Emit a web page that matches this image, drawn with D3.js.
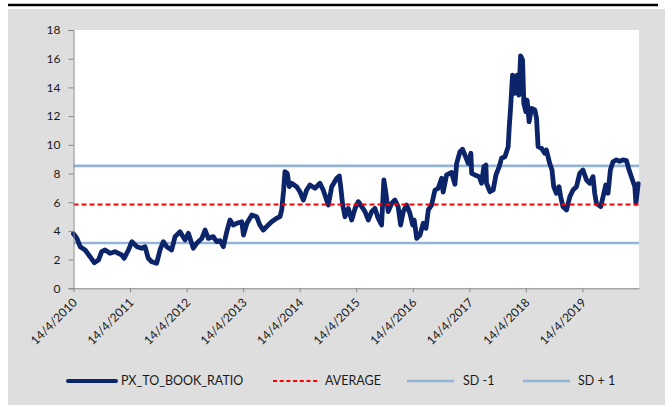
<!DOCTYPE html>
<html>
<head>
<meta charset="utf-8">
<script src="https://cdnjs.cloudflare.com/ajax/libs/d3/7.8.5/d3.min.js"></script>
<style>
  html, body { margin: 0; padding: 0; background: #ffffff; }
  svg { display: block; font-family: Lato, "Liberation Sans", sans-serif; }
</style>
</head>
<body>
<svg id="chart" width="672" height="407"></svg>
<script>
// Price-to-book ratio history with its mean and ±1 standard deviation bands
const dates = [
  "2010-04-14","2010-05-06","2010-05-27","2010-06-28","2010-07-30","2010-08-26","2010-09-22","2010-10-13",
  "2010-11-04","2010-12-06","2011-01-07","2011-02-20","2011-03-07","2011-04-04","2011-04-26","2011-05-28",
  "2011-06-29","2011-07-20","2011-08-10","2011-09-01","2011-10-03","2011-10-25","2011-11-15","2011-12-07",
  "2012-01-08","2012-01-30","2012-03-02","2012-04-04","2012-04-25","2012-05-27","2012-06-18","2012-07-21",
  "2012-08-11","2012-09-01","2012-10-03","2012-10-25","2012-11-15","2012-12-07","2012-12-29","2013-01-19",
  "2013-02-09","2013-03-04","2013-04-05","2013-04-16","2013-05-08","2013-06-09","2013-07-10","2013-07-31",
  "2013-08-22","2013-09-23","2013-10-15","2013-11-16","2013-12-08","2013-12-19","2013-12-31","2014-01-09",
  "2014-01-24","2014-02-06","2014-02-21","2014-03-25","2014-04-16","2014-05-08","2014-05-29","2014-06-19",
  "2014-07-22","2014-08-23","2014-09-13","2014-10-16","2014-11-07","2014-12-09","2014-12-26","2015-01-04",
  "2015-01-17","2015-02-01","2015-02-22","2015-03-16","2015-04-07","2015-04-28","2015-05-20","2015-06-10",
  "2015-07-01","2015-07-23","2015-08-13","2015-09-03","2015-09-25","2015-10-10","2015-10-23","2015-11-07",
  "2015-11-29","2015-12-20","2016-01-10","2016-01-26","2016-02-12","2016-03-05","2016-03-26","2016-04-13",
  "2016-04-23","2016-05-09","2016-05-30","2016-06-20","2016-07-08","2016-07-23","2016-08-13","2016-09-04",
  "2016-09-25","2016-10-17","2016-10-27","2016-11-18","2016-12-20","2017-01-11","2017-01-22","2017-02-12",
  "2017-03-01","2017-03-23","2017-04-07","2017-04-24","2017-04-29","2017-05-20","2017-06-17","2017-07-02",
  "2017-07-17","2017-07-30","2017-08-03","2017-08-25","2017-09-15","2017-10-03","2017-10-24","2017-11-08",
  "2017-11-30","2017-12-21","2017-12-28","2018-01-06","2018-01-18","2018-02-02","2018-02-17","2018-02-28",
  "2018-03-11","2018-03-24","2018-04-01","2018-04-14","2018-04-22","2018-05-05","2018-05-21","2018-06-11",
  "2018-06-22","2018-07-02","2018-07-24","2018-08-14","2018-08-25","2018-09-15","2018-09-30","2018-10-11",
  "2018-10-28","2018-11-14","2018-11-25","2018-12-10","2019-01-02","2019-01-23","2019-02-13","2019-03-07",
  "2019-03-28","2019-04-18","2019-05-11","2019-06-01","2019-06-22","2019-07-03","2019-07-14","2019-08-11",
  "2019-08-26","2019-09-12","2019-09-27","2019-10-12","2019-10-29","2019-11-20","2019-12-11","2020-01-02",
  "2020-01-24","2020-02-10","2020-03-03","2020-03-18","2020-03-25","2020-04-09"
];
const pxToBook = [
  3.8,3.48,2.9,2.67,2.2,1.78,1.97,2.55,
  2.67,2.44,2.55,2.32,2.09,2.67,3.25,2.9,
  2.79,2.9,2.09,1.85,1.74,2.67,3.25,2.9,
  2.67,3.6,3.94,3.37,3.83,2.79,3.14,3.48,
  4.06,3.48,3.6,3.25,3.32,2.9,3.94,4.76,
  4.41,4.53,4.64,3.71,4.53,5.11,4.99,4.41,
  4.06,4.41,4.64,4.88,4.99,5.46,6.8,8.13,
  8.01,7.08,7.32,7.08,6.73,6.15,6.85,7.2,
  6.97,7.32,6.85,5.8,7.08,7.67,7.83,7.08,
  5.8,4.99,5.57,4.76,5.57,6.04,5.69,5.34,
  4.76,5.34,5.57,4.88,4.41,7.55,6.62,5.34,
  5.92,6.15,5.69,4.41,5.34,5.8,5.23,4.41,
  4.76,3.48,3.71,4.53,4.18,5.46,5.8,6.85,
  6.97,7.67,6.7,7.9,8.07,7.25,8.71,9.5,
  9.69,9.1,8.71,9.41,8.01,7.9,7.78,7.32,
  8.48,8.59,7.32,6.73,6.85,7.9,8.48,9.06,
  9.17,9.87,11.26,12.66,14.86,13.59,14.86,13.47,
  16.2,15.9,12.89,12.31,13.12,11.61,12.54,12.43,
  11.85,9.87,9.76,9.41,9.64,8.71,8.24,7.08,
  6.62,7.08,6.38,5.69,5.46,6.38,6.85,7.08,
  8.01,8.24,7.55,7.32,7.78,6.62,5.92,5.69,
  6.38,7.2,6.62,8.24,8.82,8.95,8.85,8.95,
  8.9,8.24,7.55,7.08,5.92,7.3
];

// Reference lines: mean and one standard deviation either side
const average = 5.84;
const sdMinus1 = 3.16;
const sdPlus1 = 8.53;

const xTickLabels = [
  "14/4/2010","14/4/2011","14/4/2012","14/4/2013","14/4/2014",
  "14/4/2015","14/4/2016","14/4/2017","14/4/2018","14/4/2019"
];
const yTicks = [0, 2, 4, 6, 8, 10, 12, 14, 16, 18];

const legendItems = ["PX_TO_BOOK_RATIO", "AVERAGE", "SD -1", "SD + 1"];

const colors = { series: "#0c246a", avg: "#ff0000", sd: "#95b3d7", axis: "#868686", text: "#1a1a1a" };

const parseDate = d3.timeParse("%Y-%m-%d");
const parseTick = d3.timeParse("%d/%m/%Y");
const series = dates.map((d, i) => ({ date: parseDate(d), value: pxToBook[i] }));

const svg = d3.select("#chart");

// Outer panel and the rule above it
svg.append("rect").attr("x", 8).attr("y", 9).attr("width", 657).attr("height", 396).attr("fill", "#dedede");
svg.append("line").attr("x1", 8).attr("x2", 658).attr("y1", 5).attr("y2", 5)
  .attr("stroke", "#000").attr("stroke-width", 2.5);

const plot = { left: 73.5, right: 639, top: 30, bottom: 288.3 };

const x = d3.scaleTime()
  .domain([parseDate("2010-04-14"), parseDate("2020-04-14")])
  .range([plot.left, plot.right]);
const y = d3.scaleLinear().domain([0, 18]).range([plot.bottom, plot.top]);

// Plot area
svg.append("rect").attr("x", plot.left).attr("y", plot.top)
  .attr("width", plot.right - plot.left).attr("height", plot.bottom - plot.top).attr("fill", "#ffffff");

// Horizontal reference lines
const refLine = (v, color, width, dash) => svg.append("line")
  .attr("x1", plot.left).attr("x2", plot.right)
  .attr("y1", y(v)).attr("y2", y(v))
  .attr("stroke", color).attr("stroke-width", width)
  .attr("stroke-dasharray", dash || null);
refLine(sdPlus1, colors.sd, 2.6);
refLine(sdMinus1, colors.sd, 2.6);

// Series line
svg.append("path").datum(series)
  .attr("fill", "none")
  .attr("stroke", colors.series)
  .attr("stroke-width", 4.8)
  .attr("stroke-linejoin", "round")
  .attr("stroke-linecap", "round")
  .attr("d", d3.line().x(d => x(d.date)).y(d => y(d.value)));

refLine(average, colors.avg, 2, "5,3");

// Y axis
const yAxis = svg.append("g").attr("transform", `translate(${plot.left},0)`)
  .call(d3.axisLeft(y).tickValues(yTicks).tickSize(5).tickPadding(8).tickFormat(d3.format("d")));
yAxis.select(".domain").attr("stroke", colors.axis);
yAxis.selectAll(".tick line").attr("stroke", colors.axis);
yAxis.selectAll(".tick text").attr("fill", colors.text).attr("font-size", 12)
  .attr("font-family", "Lato, sans-serif");

// X axis
const xAxis = svg.append("g").attr("transform", `translate(0,${plot.bottom})`)
  .call(d3.axisBottom(x).tickValues(xTickLabels.map(parseTick)).tickSize(4).tickSizeOuter(0)
    .tickFormat((d, i) => xTickLabels[i]));
xAxis.select(".domain").attr("stroke", colors.axis);
xAxis.selectAll(".tick line").attr("stroke", colors.axis);
xAxis.selectAll(".tick text")
  .attr("fill", colors.text).attr("font-size", 12).attr("font-family", "Lato, sans-serif")
  .attr("text-anchor", "end")
  .attr("dy", null).attr("y", null)
  .attr("transform", "translate(4,15) rotate(-45)");

// Legend
const legend = svg.append("g").attr("font-size", 12.5).attr("fill", colors.text);
const legendLayout = [
  { x1: 68, x2: 116, tx: 121, color: colors.series, w: 4, dash: null },
  { x1: 273, x2: 320, tx: 325, color: colors.avg, w: 1.8, dash: "4,2.7" },
  { x1: 407, x2: 454, tx: 463, color: colors.sd, w: 2.5, dash: null },
  { x1: 523, x2: 570, tx: 578, color: colors.sd, w: 2.5, dash: null }
];
legendItems.forEach((label, i) => {
  const L = legendLayout[i];
  legend.append("line").attr("x1", L.x1).attr("x2", L.x2).attr("y1", 381).attr("y2", 381)
    .attr("stroke", L.color).attr("stroke-width", L.w).attr("stroke-dasharray", L.dash)
    .attr("stroke-linecap", i === 0 ? "round" : "butt");
  legend.append("text").attr("x", L.tx).attr("y", 381).attr("dy", "0.35em").text(label);
});
</script>
</body>
</html>
